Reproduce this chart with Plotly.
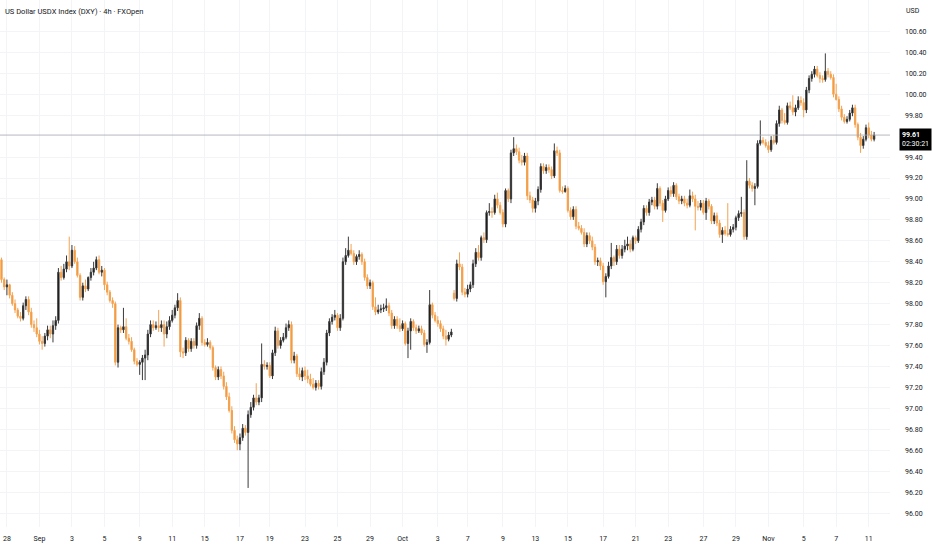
import plotly.graph_objects as go

title_text = "US Dollar USDX Index (DXY) · 4h · FXOpen"
currency = "USD"
countdown = "02:30:21"

# 4h bars, 28 Aug .. 11 Nov (closes / highs / lows)
closes = [
    98.23, 98.16, 98.18, 98.08, 98.00, 97.94, 97.88, 97.86, 97.98, 98.04,
    97.92, 97.80, 97.77, 97.71, 97.64, 97.62, 97.69, 97.75, 97.71, 97.79,
    97.84, 98.30, 98.25, 98.33, 98.40, 98.36, 98.51, 98.40, 98.27, 98.06,
    98.17, 98.14, 98.25, 98.30, 98.34, 98.42, 98.30, 98.32, 98.18, 98.11,
    98.03, 98.00, 97.44, 97.77, 97.75, 97.78, 97.67, 97.64, 97.56, 97.45,
    97.42, 97.44, 97.48, 97.51, 97.71, 97.80, 97.77, 97.79, 97.77, 97.80,
    97.71, 97.78, 97.84, 97.89, 97.96, 98.03, 97.54, 97.53, 97.65, 97.57,
    97.64, 97.60, 97.79, 97.86, 97.63, 97.61, 97.63, 97.58, 97.39, 97.30,
    97.37, 97.31, 97.21, 97.11, 96.98, 96.79, 96.70, 96.66, 96.72, 96.81,
    96.77, 96.94, 97.01, 97.10, 97.06, 97.10, 97.42, 97.40, 97.41, 97.31,
    97.53, 97.74, 97.60, 97.65, 97.68, 97.77, 97.80, 97.46, 97.50, 97.33,
    97.30, 97.36, 97.31, 97.28, 97.23, 97.20, 97.24, 97.21, 97.35, 97.44,
    97.72, 97.83, 97.87, 97.89, 97.77, 97.86, 98.40, 98.46, 98.51, 98.48,
    98.40, 98.45, 98.47, 98.40, 98.25, 98.17, 98.20, 97.97, 97.92, 97.94,
    97.95, 97.96, 97.98, 97.91, 97.79, 97.85, 97.79, 97.76, 97.81, 97.62,
    97.74, 97.83, 97.77, 97.74, 97.76, 97.72, 97.61, 97.63, 97.99, 97.89,
    97.84, 97.81, 97.76, 97.69, 97.66, 97.70, 97.73, 98.05, 98.38, 98.35,
    98.11, 98.09, 98.14, 98.18, 98.38, 98.49, 98.44, 98.63, 98.61, 98.87,
    98.88, 98.87, 99.00, 98.94, 98.87, 98.76, 99.08, 99.00, 99.44, 99.48,
    99.45, 99.37, 99.35, 99.41, 99.03, 98.99, 98.91, 98.98, 99.09, 99.31,
    99.27, 99.30, 99.28, 99.22, 99.46, 99.44, 99.08, 99.07, 99.10, 98.89,
    98.83, 98.90, 98.74, 98.72, 98.68, 98.57, 98.65, 98.60, 98.54, 98.40,
    98.41, 98.36, 98.21, 98.26, 98.36, 98.44, 98.40, 98.52, 98.46, 98.52,
    98.55, 98.57, 98.52, 98.63, 98.60, 98.71, 98.78, 98.91, 98.87, 98.97,
    98.99, 98.93, 99.10, 98.96, 98.89, 99.00, 99.08, 99.05, 99.13, 99.02,
    98.98, 99.00, 98.96, 98.94, 99.03, 99.00, 98.93, 98.92, 98.96, 98.87,
    98.98, 98.93, 98.79, 98.84, 98.77, 98.66, 98.70, 98.67, 98.66, 98.71,
    98.73, 98.82, 98.86, 98.87, 98.64, 99.17, 99.13, 99.10, 99.12, 99.53,
    99.56, 99.54, 99.51, 99.47, 99.56, 99.54, 99.72, 99.85, 99.75, 99.73,
    99.89, 99.87, 99.83, 99.87, 99.94, 99.92, 99.85, 100.04, 100.15, 100.19,
    100.24, 100.18, 100.15, 100.14, 100.22, 100.19, 100.16, 100.00, 99.95, 99.86,
    99.78, 99.74, 99.76, 99.82, 99.87, 99.71, 99.59, 99.51, 99.57, 99.68,
    99.61, 99.57, 99.61,
]

highs = [
    98.44, 98.25, 98.23, 98.19, 98.11, 98.04, 97.96, 97.92, 98.01, 98.07,
    98.07, 97.96, 97.84, 97.86, 97.75, 97.69, 97.72, 97.79, 97.79, 97.84,
    97.88, 98.34, 98.36, 98.38, 98.46, 98.64, 98.56, 98.55, 98.44, 98.29,
    98.20, 98.23, 98.26, 98.34, 98.40, 98.45, 98.46, 98.36, 98.34, 98.21,
    98.13, 98.06, 98.02, 97.80, 97.79, 97.96, 97.86, 97.71, 97.68, 97.58,
    97.48, 97.46, 97.51, 97.56, 97.75, 97.84, 97.84, 97.83, 97.94, 97.84,
    97.84, 97.83, 97.88, 97.94, 97.99, 98.10, 98.06, 97.58, 97.68, 97.67,
    97.67, 97.67, 97.82, 97.91, 97.88, 97.66, 97.67, 97.65, 97.60, 97.41,
    97.40, 97.40, 97.35, 97.25, 97.15, 97.02, 96.83, 96.74, 96.76, 96.85,
    96.84, 96.98, 97.06, 97.13, 97.24, 97.13, 97.62, 97.46, 97.44, 97.44,
    97.56, 97.78, 97.77, 97.68, 97.72, 97.81, 97.84, 97.83, 97.54, 97.52,
    97.39, 97.39, 97.40, 97.37, 97.33, 97.29, 97.27, 97.27, 97.39, 97.48,
    97.75, 97.86, 97.90, 97.94, 97.91, 97.90, 98.44, 98.53, 98.64, 98.57,
    98.51, 98.47, 98.51, 98.49, 98.43, 98.28, 98.23, 98.22, 98.06, 97.99,
    97.99, 98.00, 98.05, 98.01, 97.94, 97.88, 97.88, 97.86, 97.84, 97.83,
    97.77, 97.86, 97.85, 97.80, 97.79, 97.79, 97.75, 97.66, 98.13, 98.01,
    97.92, 97.88, 97.84, 97.79, 97.75, 97.73, 97.76, 98.13, 98.42, 98.49,
    98.38, 98.15, 98.18, 98.21, 98.42, 98.53, 98.56, 98.65, 98.68, 98.89,
    98.96, 98.92, 99.04, 99.06, 98.97, 98.90, 99.10, 99.10, 99.47, 99.59,
    99.52, 99.49, 99.42, 99.44, 99.44, 99.07, 99.02, 99.01, 99.12, 99.34,
    99.34, 99.33, 99.33, 99.31, 99.53, 99.50, 99.47, 99.12, 99.13, 99.12,
    98.92, 98.93, 98.93, 98.78, 98.75, 98.72, 98.68, 98.68, 98.64, 98.57,
    98.44, 98.44, 98.39, 98.29, 98.40, 98.58, 98.46, 98.56, 98.56, 98.56,
    98.61, 98.64, 98.61, 98.65, 98.65, 98.74, 98.81, 98.94, 98.94, 99.00,
    99.02, 99.02, 99.15, 99.12, 98.99, 99.03, 99.11, 99.12, 99.16, 99.15,
    99.05, 99.03, 99.03, 99.00, 99.09, 99.07, 99.04, 98.98, 98.99, 98.99,
    99.01, 99.00, 98.95, 98.87, 98.87, 98.80, 98.73, 98.74, 98.96, 98.74,
    98.76, 98.84, 98.89, 99.02, 98.90, 99.37, 99.20, 99.16, 99.15, 99.56,
    99.75, 99.59, 99.57, 99.55, 99.60, 99.61, 99.75, 99.89, 99.87, 99.82,
    99.92, 99.93, 99.99, 99.90, 99.98, 99.98, 99.96, 100.07, 100.18, 100.22,
    100.27, 100.27, 100.21, 100.18, 100.39, 100.25, 100.22, 100.19, 100.10, 99.98,
    99.89, 99.81, 99.79, 99.85, 99.90, 99.90, 99.73, 99.63, 99.60, 99.71,
    99.73, 99.65, 99.64,
]

lows = [
    98.20, 98.13, 98.08, 98.05, 97.98, 97.91, 97.86, 97.83, 97.84, 97.94,
    97.89, 97.77, 97.73, 97.68, 97.61, 97.56, 97.59, 97.65, 97.67, 97.63,
    97.75, 97.81, 98.22, 98.23, 98.30, 98.32, 98.34, 98.38, 98.25, 98.03,
    98.03, 98.11, 98.12, 98.22, 98.27, 98.32, 98.28, 98.26, 98.13, 98.08,
    98.01, 97.96, 97.41, 97.39, 97.72, 97.72, 97.65, 97.61, 97.54, 97.42,
    97.40, 97.32, 97.27, 97.27, 97.46, 97.68, 97.74, 97.75, 97.73, 97.73,
    97.59, 97.67, 97.75, 97.82, 97.86, 97.93, 97.49, 97.48, 97.50, 97.54,
    97.54, 97.57, 97.57, 97.75, 97.60, 97.59, 97.59, 97.56, 97.36, 97.27,
    97.27, 97.28, 97.18, 97.08, 96.96, 96.76, 96.67, 96.60, 96.60, 96.69,
    96.74, 96.24, 96.91, 96.98, 97.03, 97.03, 97.06, 97.37, 97.37, 97.29,
    97.28, 97.50, 97.57, 97.57, 97.63, 97.66, 97.74, 97.43, 97.43, 97.30,
    97.27, 97.26, 97.27, 97.24, 97.21, 97.18, 97.17, 97.18, 97.18, 97.32,
    97.41, 97.69, 97.80, 97.84, 97.74, 97.74, 97.84, 98.37, 98.44, 98.46,
    98.37, 98.37, 98.42, 98.37, 98.22, 98.14, 98.14, 97.94, 97.89, 97.90,
    97.91, 97.92, 97.93, 97.88, 97.76, 97.76, 97.76, 97.73, 97.74, 97.60,
    97.48, 97.56, 97.74, 97.71, 97.72, 97.70, 97.59, 97.53, 97.61, 97.86,
    97.82, 97.78, 97.73, 97.66, 97.60, 97.64, 97.68, 98.03, 98.02, 98.32,
    98.08, 98.06, 98.06, 98.11, 98.15, 98.35, 98.41, 98.41, 98.58, 98.58,
    98.84, 98.82, 98.85, 98.91, 98.85, 98.73, 98.73, 98.97, 98.96, 99.41,
    99.42, 99.34, 99.32, 99.32, 98.99, 98.96, 98.87, 98.87, 98.94, 99.06,
    99.24, 99.24, 99.25, 99.19, 99.20, 99.41, 99.06, 99.05, 99.06, 98.87,
    98.80, 98.80, 98.71, 98.70, 98.66, 98.54, 98.54, 98.57, 98.51, 98.37,
    98.36, 98.32, 98.18, 98.06, 98.24, 98.33, 98.36, 98.37, 98.43, 98.43,
    98.49, 98.51, 98.49, 98.50, 98.57, 98.58, 98.68, 98.75, 98.84, 98.84,
    98.94, 98.90, 98.90, 98.93, 98.78, 98.87, 98.98, 99.02, 99.02, 98.99,
    98.95, 98.95, 98.93, 98.91, 98.92, 98.97, 98.70, 98.89, 98.89, 98.85,
    98.80, 98.90, 98.76, 98.76, 98.74, 98.63, 98.58, 98.65, 98.64, 98.64,
    98.68, 98.70, 98.79, 98.83, 98.61, 98.61, 99.10, 99.07, 98.94, 99.10,
    99.51, 99.52, 99.49, 99.44, 99.45, 99.52, 99.52, 99.69, 99.72, 99.71,
    99.71, 99.85, 99.80, 99.79, 99.85, 99.89, 99.78, 99.82, 100.01, 100.12,
    100.16, 100.16, 100.11, 100.11, 100.12, 100.16, 100.14, 99.97, 99.94, 99.83,
    99.75, 99.72, 99.72, 99.74, 99.79, 99.68, 99.56, 99.44, 99.48, 99.55,
    99.58, 99.55, 99.55,
]

# Each 4h bar opens at the previous close; the one exception is the
# weekend gap at the Monday 6 Oct open.
first_open = 98.42
gap_bar = 167
gap_open = 98.10
opens = [first_open] + closes[:-1]
opens[gap_bar] = gap_open

# date labels on the time axis (bar number where each labelled day starts)
tick_bar = [2, 14, 26, 38, 51, 63, 75, 88, 99, 112, 124, 136, 148, 161,
            172, 185, 197, 209, 222, 234, 246, 259, 271, 283, 296, 308, 320]
tick_text = ["28", "Sep", "3", "5", "9", "11", "15", "17", "19", "23", "25",
             "29", "Oct", "3", "7", "9", "13", "15", "17", "21", "23", "27",
             "29", "Nov", "5", "7", "11"]

# price scale labels (99.60 is hidden behind the last-price tag, as in the chart)
price_ticks = [96.00, 96.20, 96.40, 96.60, 96.80, 97.00, 97.20, 97.40,
               97.60, 97.80, 98.00, 98.20, 98.40, 98.60, 98.80, 99.00,
               99.20, 99.40, 99.80, 100.00, 100.20, 100.40, 100.60]

bars = list(range(len(closes)))

TXT = "#131722"
GRID = "#f3f4f8"
FONT = "Roboto, 'Liberation Sans', sans-serif"

fig = go.Figure()
fig.add_trace(go.Candlestick(
    x=bars, open=opens, high=highs, low=lows, close=closes,
    increasing=dict(line=dict(color="#3a3a3a", width=1), fillcolor="#000000"),
    decreasing=dict(line=dict(color="#f3a352", width=1), fillcolor="#f29226"),
    whiskerwidth=0, hoverinfo="skip", showlegend=False,
))

last = closes[-1]
fig.add_shape(type="line", xref="paper", x0=0, x1=1, yref="y", y0=last, y1=last,
              line=dict(color="#a3a5ad", width=0.8), layer="above")

fig.add_annotation(xref="paper", x=1, xanchor="left", xshift=9,
                   yref="y", y=last, yanchor="top", yshift=7,
                   text=f"<b>{last:.2f}</b><br>{countdown}", showarrow=False,
                   align="left", bgcolor="#000000", borderpad=2,
                   font=dict(color="#ffffff", size=7, family=FONT))
fig.add_annotation(xref="paper", x=1, xanchor="left", xshift=14,
                   yref="paper", y=1, yanchor="top", yshift=-5,
                   text=currency, showarrow=False,
                   font=dict(color=TXT, size=7, family=FONT))
fig.add_annotation(xref="paper", x=0, xanchor="left", xshift=3,
                   yref="paper", y=1, yanchor="top", yshift=-5,
                   text=title_text, showarrow=False,
                   font=dict(color=TXT, size=7.5, family=FONT))

fig.update_layout(
    width=932, height=550,
    margin=dict(l=0, r=42, t=0, b=23),
    paper_bgcolor="#ffffff", plot_bgcolor="#ffffff",
    font=dict(family=FONT, size=7, color=TXT),
    showlegend=False,
    xaxis=dict(
        range=[-0.55, 327.86], rangeslider=dict(visible=False),
        tickmode="array", tickvals=tick_bar, ticktext=tick_text,
        showgrid=True, gridcolor=GRID, gridwidth=1, zeroline=False,
        showline=False, ticks="", tickfont=dict(size=7, color=TXT),
        ticklabelstandoff=6,
    ),
    yaxis=dict(
        side="right", range=[95.867, 100.90],
        tickmode="array", tickvals=price_ticks, tickformat=".2f",
        showgrid=True, gridcolor=GRID, gridwidth=1, zeroline=False,
        showline=False, ticks="", tickfont=dict(size=7, color=TXT),
        ticklabelstandoff=14,
    ),
)

fig.write_html("out.html", config={"displayModeBar": False},
               post_script="document.body.style.margin='0';")
